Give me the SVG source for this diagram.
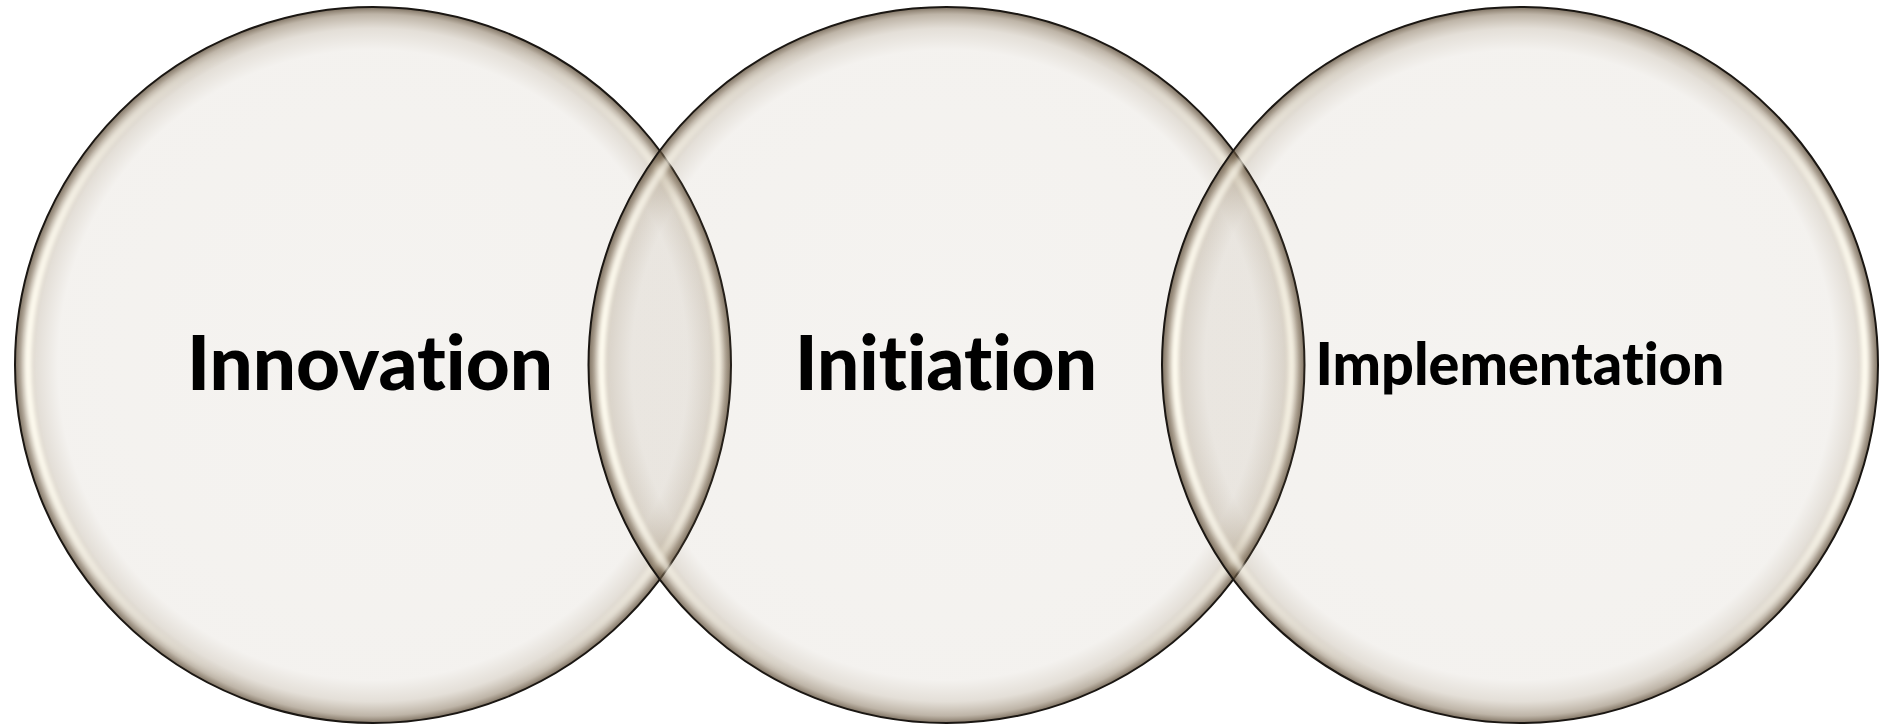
<svg xmlns="http://www.w3.org/2000/svg" width="1892" height="728" viewBox="0 0 1892 728">
<style>
.disc{fill:url(#discFill);stroke:#1a1612;stroke-width:2}
.hl{fill:none;stroke:url(#hlGrad);stroke-width:8;filter:url(#soft)}
.lbl{font-family:Lato,"Liberation Sans",sans-serif;font-weight:900;fill:#000;text-anchor:middle;font-variant-ligatures:none;font-feature-settings:"liga" 0,"clig" 0}
</style>
<defs>
<radialGradient id="discFill" cx="0.5" cy="0.5" r="0.5">
<stop offset="0" stop-color="#8e7a5c" stop-opacity="0.09"/>
<stop offset="0.88" stop-color="#8e7a5c" stop-opacity="0.1"/>
<stop offset="0.94" stop-color="#8e7a5c" stop-opacity="0.24"/>
<stop offset="0.98" stop-color="#7d6a50" stop-opacity="0.5"/>
<stop offset="1" stop-color="#5a4a36" stop-opacity="0.78"/>
</radialGradient>
<linearGradient id="hlGrad" x1="0" y1="0" x2="1" y2="0">
<stop offset="0" stop-color="#fffcf0" stop-opacity="1"/>
<stop offset="0.12" stop-color="#fffcf0" stop-opacity="0.55"/>
<stop offset="0.3" stop-color="#fffcf0" stop-opacity="0"/>
<stop offset="0.7" stop-color="#fffcf0" stop-opacity="0"/>
<stop offset="0.88" stop-color="#fffcf0" stop-opacity="0.55"/>
<stop offset="1" stop-color="#fffcf0" stop-opacity="1"/>
</linearGradient>
<filter id="soft" x="-5%" y="-5%" width="110%" height="110%"><feGaussianBlur stdDeviation="2"/></filter>
</defs>
<rect width="1892" height="728" fill="#ffffff"/>
<g id="innovation">
<circle class="disc" cx="373" cy="365" r="358"/>
<circle class="hl" cx="373" cy="365" r="345"/>
<text class="lbl" x="370" y="390" font-size="77" textLength="366" lengthAdjust="spacingAndGlyphs">Innovation</text>
</g>
<g id="initiation">
<circle class="disc" cx="946.5" cy="365" r="358"/>
<circle class="hl" cx="946.5" cy="365" r="345"/>
<text class="lbl" x="946" y="390" font-size="77" textLength="302" lengthAdjust="spacingAndGlyphs">Initiation</text>
</g>
<g id="implementation">
<circle class="disc" cx="1520" cy="365" r="358"/>
<circle class="hl" cx="1520" cy="365" r="345"/>
<text class="lbl" x="1520" y="385" font-size="59" textLength="409" lengthAdjust="spacingAndGlyphs">Implementation</text>
</g>
<g id="connectors"/>
</svg>
